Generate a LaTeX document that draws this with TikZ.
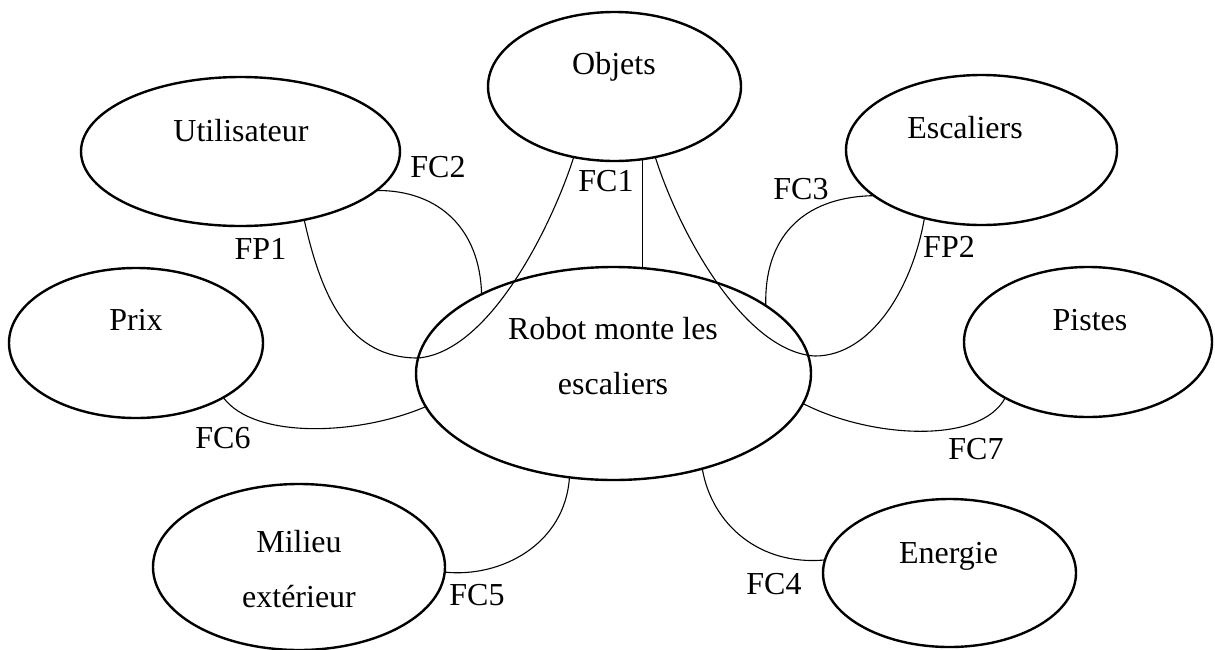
\documentclass[tikz,border=0pt]{standalone}
\usepackage{fontspec}
\setmainfont{Liberation Serif}
\usetikzlibrary{shapes.geometric}
\begin{document}
\begin{tikzpicture}[x=1pt,y=-1pt,
  bubble/.style={ellipse, draw, line width=2.4pt, inner sep=0pt, outer sep=0pt},
  txt/.style={anchor=base, inner sep=0pt, font=\fontsize{32}{38}\selectfont},
  link/.style={line width=1.1pt}]
\useasboundingbox (0,0) rectangle (1215,649);
% ellipses
\node[bubble, minimum width=253pt, minimum height=149pt] (objets) at (614.5,86.5) {};
\node[bubble, minimum width=319pt, minimum height=149pt] (util) at (240.5,151.5) {};
\node[bubble, minimum width=271pt, minimum height=150pt] (esc) at (981.5,150) {};
\node[bubble, minimum width=254pt, minimum height=150pt] (prix) at (136,343) {};
\node[bubble, minimum width=395pt, minimum height=213pt] (robot) at (613.5,373.5) {};
\node[bubble, minimum width=248pt, minimum height=150pt] (pistes) at (1088,342) {};
\node[bubble, minimum width=292pt, minimum height=166pt] (milieu) at (299,567) {};
\node[bubble, minimum width=253pt, minimum height=148pt] (energie) at (949.5,573) {};
% texts
\node[txt] (tobjets) at (614,74) {Objets};
\node[txt] (tutil) at (241,141) {Utilisateur};
\node[txt] (tesc) at (965,138) {Escaliers};
\node[txt] (tprix) at (136,330) {Prix};
\node[txt] (trobot1) at (613,339) {Robot monte les};
\node[txt] (trobot2) at (613,394) {escaliers};
\node[txt] (tpistes) at (1090,330) {Pistes};
\node[txt] (tmilieu1) at (299,552) {Milieu};
\node[txt] (tmilieu2) at (299,607) {extérieur};
\node[txt] (tenergie) at (948.5,563) {Energie};
% labels
\node[txt] (lfc1) at (606,191) {FC1};
\node[txt] (lfc2) at (438,177) {FC2};
\node[txt] (lfc3) at (801,199) {FC3};
\node[txt] (lfc4) at (774,594) {FC4};
\node[txt] (lfc5) at (477,605) {FC5};
\node[txt] (lfc6) at (223,448) {FC6};
\node[txt] (lfc7) at (976,459) {FC7};
\node[txt] (lfp1) at (260.5,259) {FP1};
\node[txt] (lfp2) at (949,257) {FP2};
% helper coordinates
\coordinate (fp1low) at (418,358);
\coordinate (fp2low) at (815,356);
% connectors
\draw[link] (objets.-69.6) -- (objets.-69.6 |- robot.north);
\draw[link] (util.-47.5) .. controls (322,300) and (350,358) .. (fp1low)
  .. controls (490,352) and (552,225) .. (objets.240.3);
\draw[link] (objets.-60.2) .. controls (680,235) and (745,352) .. (fp2low)
  .. controls (870,356) and (912,290) .. (esc.230);
\draw[link] (util.-16.9) .. controls (440,190) and (480,230) .. (robot.149.2);
\draw[link] (esc.203.8) .. controls (800,197) and (764,240) .. (robot.24.3);
\draw[link] (prix.-32.8) .. controls (255,440) and (360,435) .. (robot.190);
\draw[link] (robot.-9.9) .. controls (870,438) and (980,445) .. (pistes.214.5);
\draw[link] (robot.247.9) .. controls (565,545) and (500,578) .. (milieu.-2.4);
\draw[link] (robot.-47.2) .. controls (712,525) and (760,566) .. (energie.174.5);
\end{tikzpicture}
\end{document}
